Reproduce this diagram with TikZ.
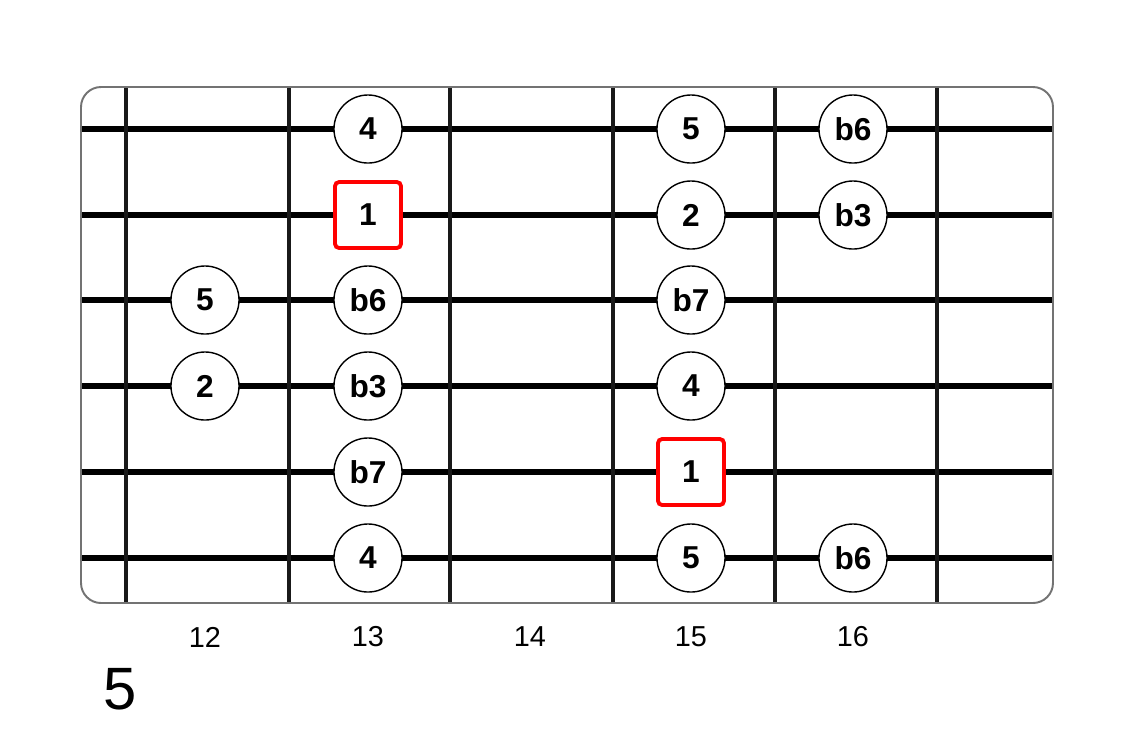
\documentclass[tikz,border=0pt]{standalone}
\usepackage{fontspec}
\setmainfont{Liberation Sans}
\tikzset{
  note/.style={circle, draw, line width=0.4pt, fill=white, minimum size=0.68cm, inner sep=0pt, font=\bfseries\fontsize{9}{10}\selectfont},
  root/.style={rectangle, draw=red, line width=1.1pt, rounded corners=1.2pt, fill=white, minimum size=0.66cm, inner sep=0pt, font=\bfseries\fontsize{9}{10}\selectfont},
  fretnum/.style={font=\fontsize{8.2}{10}\selectfont}
}
\begin{document}
\begin{tikzpicture}[x=0.01cm, y=-0.01cm]
            \useasboundingbox (0,0) rectangle (1132,732);
            \foreach \y in {129,215,300,386,472,558} \draw[line width=1.45pt] (81,\y) -- (1053,\y);
            \foreach \x in {126,289,450,613,775,937} \draw[black!90, line width=0.9pt] (\x,87) -- (\x,603);
            \draw[black!55, line width=0.55pt, rounded corners=5.7pt] (81,87) rectangle (1053,603);
            \node[note] (s1a) at (368,129) {4};
            \node[note] (s1b) at (691,129) {5};
            \node[note] (s1c) at (853,129) {b6};
            \node[root] (s2a) at (368,215) {1};
            \node[note] (s2b) at (691,215) {2};
            \node[note] (s2c) at (853,215) {b3};
            \node[note] (s3a) at (205,300) {5};
            \node[note] (s3b) at (368,300) {b6};
            \node[note] (s3c) at (691,300) {b7};
            \node[note] (s4a) at (205,386) {2};
            \node[note] (s4b) at (368,386) {b3};
            \node[note] (s4c) at (691,386) {4};
            \node[note] (s5a) at (368,472) {b7};
            \node[root] (s5b) at (691,472) {1};
            \node[note] (s6a) at (368,558) {4};
            \node[note] (s6b) at (691,558) {5};
            \node[note] (s6c) at (853,558) {b6};
            \foreach \x/\f in {205/12, 368/13, 530/14, 691/15, 853/16} \node[fretnum] (f\f) at (\x,637) {\f};
            \node[font=\fontsize{17}{20}\selectfont] (pos) at (120,689) {5};
        \end{tikzpicture}
\end{document}
